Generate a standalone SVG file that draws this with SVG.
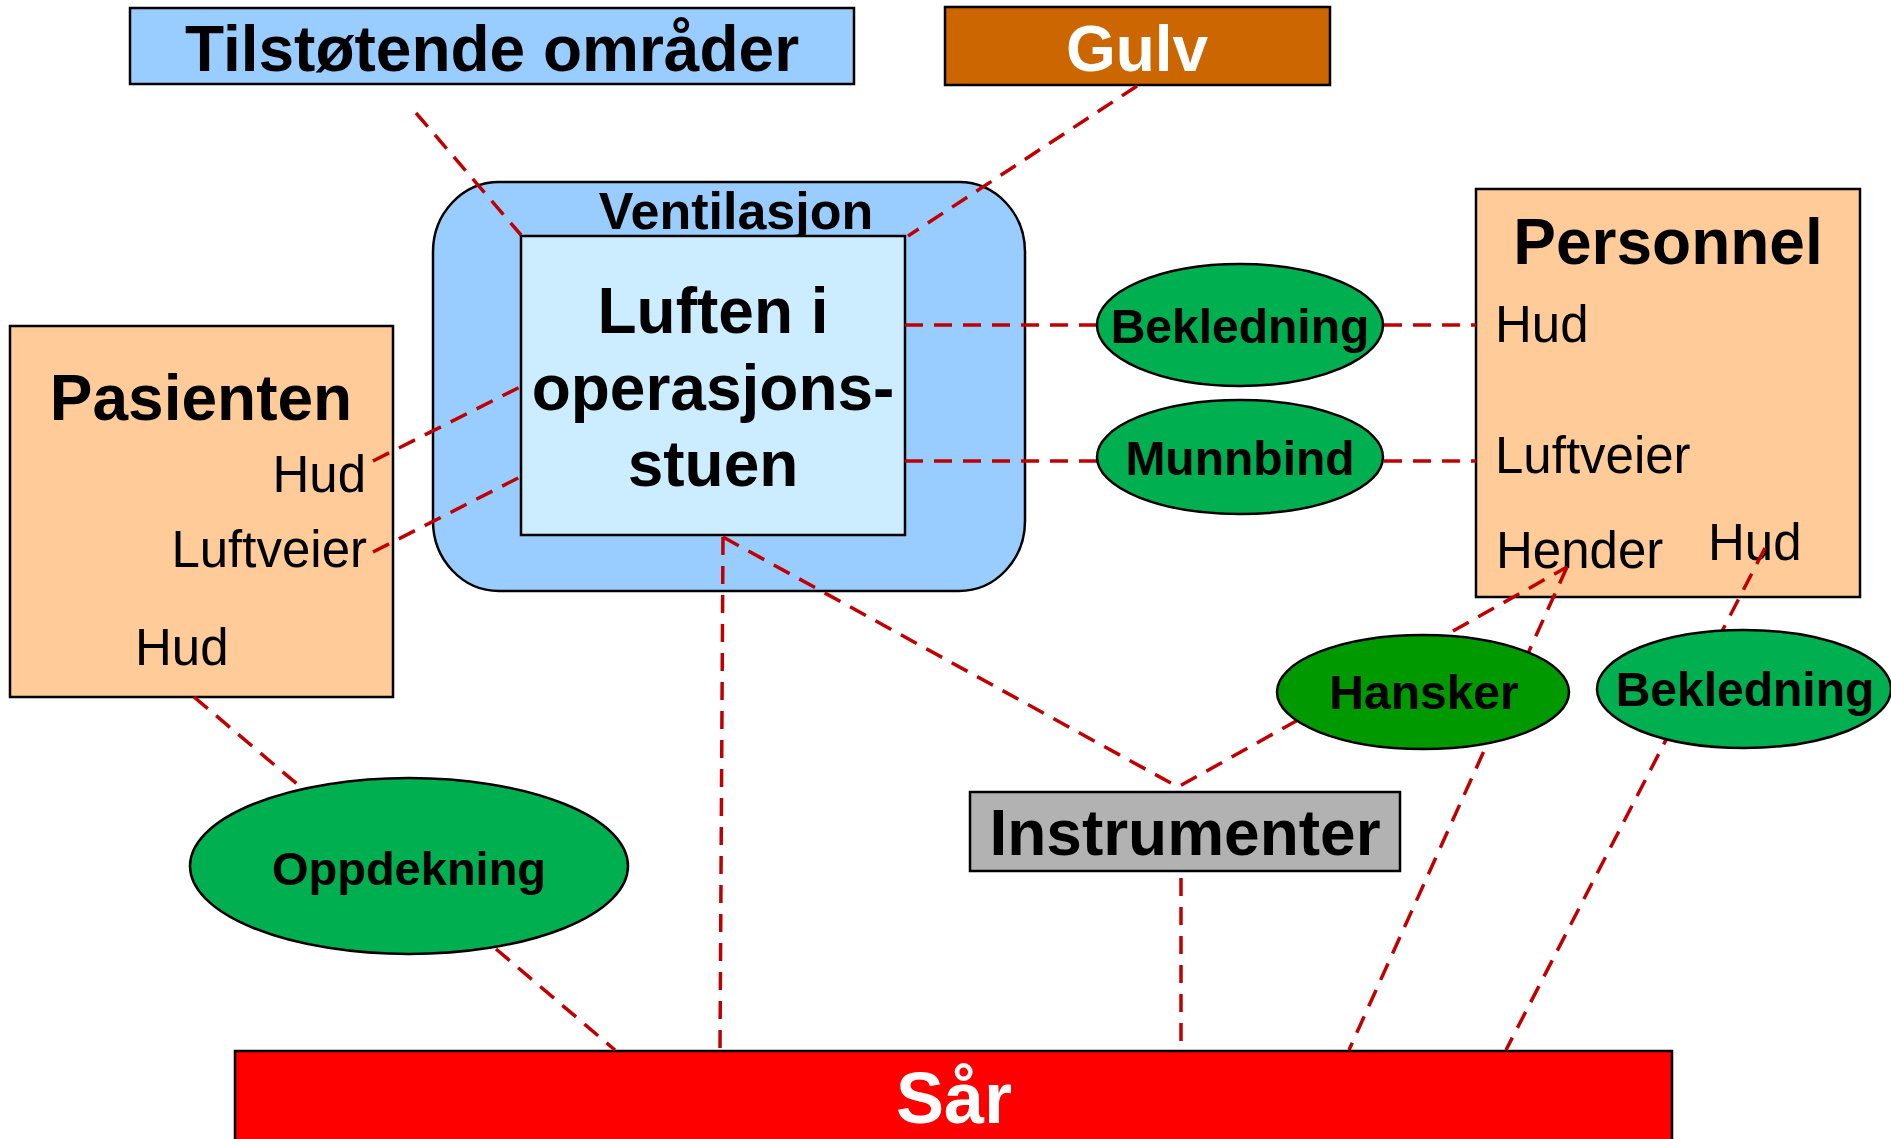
<svg xmlns="http://www.w3.org/2000/svg" width="1891" height="1139" viewBox="0 0 1891 1139">
<style>
text{font-family:"Liberation Sans",Arial,sans-serif;fill:#000}
.b{font-weight:bold}
.t64{font-size:64px}
.t48{font-size:48px}
.t51{font-size:51px}
.m{text-anchor:middle}
.e{text-anchor:end}
.w{fill:#fff}
.box{stroke:#000;stroke-width:2.5}
.con line{stroke:#C00000;stroke-width:3.5;stroke-dasharray:18 11;fill:none}
</style>
<rect width="1891" height="1139" fill="#fff"/>
<g id="ventilasjon">
<rect class="box" x="433" y="182" width="592" height="409" rx="66" ry="70" fill="#99CCFF"/>
<text class="b m" x="736" y="229" font-size="52">Ventilasjon</text>
</g>
<g id="tilstotende">
<rect class="box" x="130" y="8" width="724" height="76" fill="#99CCFF"/>
<text class="b m t64" x="492" y="71">Tilstøtende områder</text>
</g>
<g id="gulv">
<rect class="box" x="945" y="7" width="385" height="78" fill="#CC6600"/>
<text class="b m t64 w" x="1137" y="71">Gulv</text>
</g>
<g id="luften">
<rect class="box" x="521" y="236" width="384" height="299" fill="#CCECFF"/>
<text class="b m t64" x="713" y="333">Luften i</text>
<text class="b m t64" x="713" y="410">operasjons-</text>
<text class="b m t64" x="713" y="486">stuen</text>
</g>
<g id="pasienten">
<rect class="box" x="10" y="326" width="383" height="371" fill="#FFCC99"/>
<text class="b m t64" x="201" y="420">Pasienten</text>
<text class="e t51" x="366" y="492">Hud</text>
<text class="e t51" x="367" y="567">Luftveier</text>
<text class="t51" x="135" y="665">Hud</text>
</g>
<g id="personnel">
<rect class="box" x="1476" y="189" width="384" height="408" fill="#FFCC99"/>
<text class="b m t64" x="1668" y="264">Personnel</text>
<text class="t51" x="1495" y="342">Hud</text>
<text class="t51" x="1495" y="473">Luftveier</text>
<text class="t51" x="1496" y="568">Hender</text>
<text class="t51" x="1708" y="560">Hud</text>
</g>
<g id="instrumenter">
<rect class="box" x="970" y="792" width="430" height="79" fill="#B2B2B2"/>
<text class="b m t64" x="1185" y="855">Instrumenter</text>
</g>
<g id="saar">
<rect class="box" x="235" y="1051" width="1437" height="100" fill="#FF0000"/>
<text class="b m w" x="954" y="1123" font-size="72">Sår</text>
</g>
<g id="connectors" class="con">
<line x1="416" y1="113" x2="521" y2="235"/>
<line x1="1137" y1="86" x2="908" y2="236"/>
<line x1="905" y1="325" x2="1097" y2="325"/>
<line x1="1384" y1="325" x2="1476" y2="325"/>
<line x1="905" y1="461" x2="1097" y2="461"/>
<line x1="1384" y1="461" x2="1476" y2="461"/>
<line x1="373" y1="461" x2="522" y2="386"/>
<line x1="373" y1="552" x2="522" y2="476"/>
<line x1="194" y1="697" x2="303" y2="789"/>
<line x1="496" y1="949" x2="615" y2="1050"/>
<line x1="723" y1="537" x2="720" y2="1050"/>
<line x1="723" y1="537" x2="1178" y2="787"/>
<line x1="1298" y1="720" x2="1178" y2="787"/>
<line x1="1181" y1="878" x2="1181" y2="1050"/>
<line x1="1453" y1="631" x2="1567" y2="567"/>
<line x1="1567" y1="567" x2="1349" y2="1050"/>
<line x1="1765" y1="548" x2="1506" y2="1050"/>
</g>
<g id="bekledning1">
<ellipse class="box" cx="1240" cy="325" rx="143" ry="61" fill="#00B050"/>
<text class="b m t48" x="1240" y="343">Bekledning</text>
</g>
<g id="munnbind">
<ellipse class="box" cx="1240" cy="457" rx="143" ry="57" fill="#00B050"/>
<text class="b m t48" x="1240" y="475">Munnbind</text>
</g>
<g id="hansker">
<ellipse class="box" cx="1423" cy="692" rx="146" ry="57" fill="#009900"/>
<text class="b m t48" x="1424" y="709">Hansker</text>
</g>
<g id="bekledning2">
<ellipse class="box" cx="1744" cy="689" rx="147" ry="59" fill="#00B050"/>
<text class="b m t48" x="1745" y="706">Bekledning</text>
</g>
<g id="oppdekning">
<ellipse class="box" cx="409" cy="866" rx="219" ry="88" fill="#00B050"/>
<text class="b m" x="409" y="885" font-size="47">Oppdekning</text>
</g>
</svg>
